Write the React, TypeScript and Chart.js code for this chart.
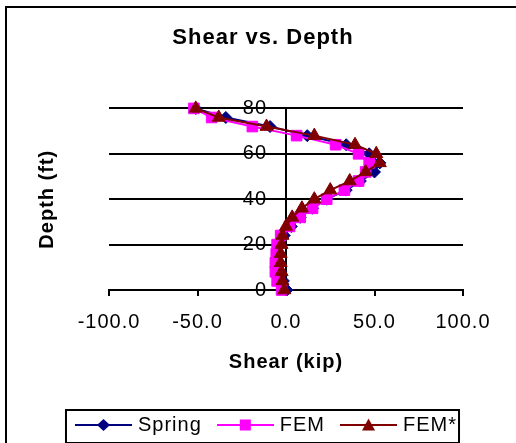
import React, { useEffect, useRef } from "react";
import { Chart, registerables } from "chart.js";

Chart.register(...registerables);

// ---- data ----
const depthFt = [80, 76, 72, 68, 64, 60, 56, 52, 48, 44, 40, 36, 32, 28, 24, 20, 16, 12, 8, 4, 0];
const springShear = [-51, -34, -9, 12, 34, 47, 53, 50, 42, 34, 23, 15, 8, 3, -1, -3, -3.5, -3.5, -3, -1.5, 0.5];
const femShear = [-52, -42, -19, 6, 28, 41, 47, 45, 41, 33, 23, 15, 8, 2, -3, -5, -5.5, -6, -6, -5, -2.5];
const femStarShear = [-51, -38, -11, 16, 39, 51, 53, 45, 36, 25, 16, 9, 3.5, 0, -2, -2.5, -3, -3, -2.5, -2, -1];

const seriesNames = ["Spring", "FEM", "FEM*"];
const seriesColors = ["#000080", "#FF00FF", "#800000"];
const seriesShapes = ["diamond", "square", "triangle"];

const xMin = -100;
const xMax = 100;
const xStep = 50;
const yMin = 0;
const yMax = 80;
const yStep = 20;

const chartTitle = "Shear vs. Depth";
const xTitle = "Shear (kip)";
const yTitle = "Depth (ft)";

const FONT = '"Liberation Sans", Arial, Helvetica, sans-serif';

function makeLegendIcon(color: string, shape: string): HTMLCanvasElement {
  const c = document.createElement("canvas");
  c.width = 57;
  c.height = 16;
  const g = c.getContext("2d")!;
  g.strokeStyle = color;
  g.lineWidth = 2;
  g.beginPath();
  g.moveTo(0, 8);
  g.lineTo(57, 8);
  g.stroke();
  g.fillStyle = color;
  g.beginPath();
  const cx = 28.5;
  const cy = 8;
  if (shape === "diamond") {
    g.moveTo(cx, cy - 6);
    g.lineTo(cx + 6.5, cy);
    g.lineTo(cx, cy + 6);
    g.lineTo(cx - 6.5, cy);
  } else if (shape === "square") {
    g.rect(cx - 5.5, cy - 5.5, 11, 11);
  } else {
    g.moveTo(cx, cy - 6.5);
    g.lineTo(cx + 6.5, cy + 5.5);
    g.lineTo(cx - 6.5, cy + 5.5);
  }
  g.closePath();
  g.fill();
  return c;
}

const LEGEND_DX = 5;
const LEGEND_DY = 2;

const spacingPlugin = {
  id: "spacingAndFrame",
  beforeUpdate(chart: any) {
    chart.ctx.letterSpacing = "1px";
  },
  beforeLayout(chart: any) {
    chart.ctx.letterSpacing = "1px";
  },
  afterLayout(chart: any) {
    const lg = chart.legend;
    if (lg) {
      lg.left += LEGEND_DX;
      lg.right += LEGEND_DX;
      lg.top += LEGEND_DY;
      lg.bottom += LEGEND_DY;
    }
  },
  beforeDraw(chart: any) {
    const ctx = chart.ctx;
    ctx.letterSpacing = "1px";
    ctx.save();
    ctx.fillStyle = "#ffffff";
    ctx.fillRect(0, 0, chart.width, chart.height);
    ctx.strokeStyle = "#000000";
    ctx.lineWidth = 2;
    ctx.strokeRect(6, 7, 600, 600);
    ctx.restore();
    // y tick labels sit to the left of the crossing axis (tick + padding)
    const ys = chart.scales.y;
    const xs = chart.scales.x;
    if (ys && xs) {
      const axisX = xs.getPixelForValue(0);
      const items = ys.getLabelItems();
      items.forEach((it: any) => {
        it.options.translation[0] = axisX - 19;
        it.options.textAlign = "right";
      });
    }
  },
  afterDraw(chart: any) {
    const hb = chart.legend && chart.legend.legendHitBoxes;
    if (!hb || !hb.length) return;
    const first = hb[0];
    const last = hb[hb.length - 1];
    const ctx = chart.ctx;
    ctx.save();
    ctx.strokeStyle = "#000000";
    ctx.lineWidth = 2;
    const left = first.left - 13;
    const right = last.left + last.width + 2;
    const top = first.top - 5;
    const bottom = first.top + 28;
    ctx.strokeRect(left, top, right - left, bottom - top);
    ctx.restore();
  },
};

export default function App() {
  const ref = useRef<HTMLCanvasElement>(null);

  useEffect(() => {
    const seriesValues = [springShear, femShear, femStarShear];
    const chartStyles = ["rectRot", "rect", "triangle"];
    const radii = [6, 7.5, 7.5];
    const orders = [2, 1, 0];
    const icons = seriesColors.map((c, i) => makeLegendIcon(c, seriesShapes[i]));

    const datasets = seriesNames.map((name, i) => ({
      label: name,
      data: depthFt.map((d, j) => ({ x: seriesValues[i][j], y: d })),
      borderColor: seriesColors[i],
      backgroundColor: seriesColors[i],
      borderWidth: 2,
      pointStyle: chartStyles[i],
      pointRadius: radii[i],
      pointBorderWidth: 1,
      pointBorderColor: seriesColors[i],
      pointBackgroundColor: seriesColors[i],
      tension: 0,
      fill: false,
      clip: false,
      order: orders[i],
      xAxisID: "x",
      yAxisID: "y",
    }));

    const chart = new Chart(ref.current!, {
      type: "line",
      data: { datasets },
      plugins: [spacingPlugin],
      options: {
        animation: false,
        responsive: false,
        events: [],
        layout: { padding: { left: 10, right: 0, top: 0, bottom: 0 } },
        plugins: {
          title: {
            display: true,
            text: chartTitle,
            color: "#000",
            font: { family: FONT, size: 22, weight: "bold" },
            padding: { top: 25, bottom: 57 },
          },
          legend: {
            display: true,
            position: "bottom",
            labels: {
              usePointStyle: true,
              pointStyleWidth: 49,
              padding: 19,
              color: "#000",
              font: { family: FONT, size: 20 },
              generateLabels: () =>
                seriesNames.map((name, i) => ({
                  text: name,
                  fillStyle: seriesColors[i],
                  strokeStyle: seriesColors[i],
                  lineWidth: 0,
                  pointStyle: icons[i],
                  hidden: false,
                  datasetIndex: i,
                  fontColor: "#000",
                })),
            },
          },
          tooltip: { enabled: false },
        },
        scales: {
          x: {
            type: "linear",
            position: "bottom",
            min: xMin,
            max: xMax,
            ticks: {
              stepSize: xStep,
              callback: (v: any) => Number(v).toFixed(1),
              color: "#000",
              font: { family: FONT, size: 20 },
              padding: 14,
              maxRotation: 0,
              autoSkip: false,
            },
            grid: {
              display: true,
              drawOnChartArea: false,
              drawTicks: true,
              tickLength: 6,
              color: "#000",
              lineWidth: 2,
            },
            border: { display: true, color: "#000", width: 2 },
            title: {
              display: true,
              text: xTitle,
              color: "#000",
              font: { family: FONT, size: 20, weight: "bold" },
              padding: { top: 2, bottom: 20 },
            },
          },
          y: {
            type: "linear",
            axis: "y",
            position: { x: 0 },
            min: yMin,
            max: yMax,
            ticks: {
              stepSize: yStep,
              color: "#000",
              font: { family: FONT, size: 20 },
              padding: 14,
            },
            grid: {
              display: true,
              drawTicks: true,
              tickLength: 6,
              color: "#000",
              lineWidth: 2,
            },
            border: { display: true, color: "#000", width: 2 },
          },
          yL: {
            type: "linear",
            axis: "y",
            position: "left",
            display: true,
            ticks: { display: false },
            grid: { display: false },
            border: { display: false },
            title: {
              display: true,
              text: yTitle,
              color: "#000",
              font: { family: FONT, size: 20, weight: "bold" },
              padding: { top: 25, bottom: 0 },
            },
            afterFit: (s: any) => {
              s.width = 99;
            },
          },
          yR: {
            type: "linear",
            axis: "y",
            position: "right",
            display: true,
            ticks: { display: false },
            grid: { display: false },
            border: { display: false },
            afterFit: (s: any) => {
              s.width = 53;
            },
          },
        },
      } as any,
    } as any);

    return () => chart.destroy();
  }, []);

  return (
    <div style={{ position: "fixed", left: 0, top: 0, width: 516, height: 443, background: "#fff" }}>
      <canvas ref={ref} width={516} height={443} style={{ display: "block" }} />
    </div>
  );
}
